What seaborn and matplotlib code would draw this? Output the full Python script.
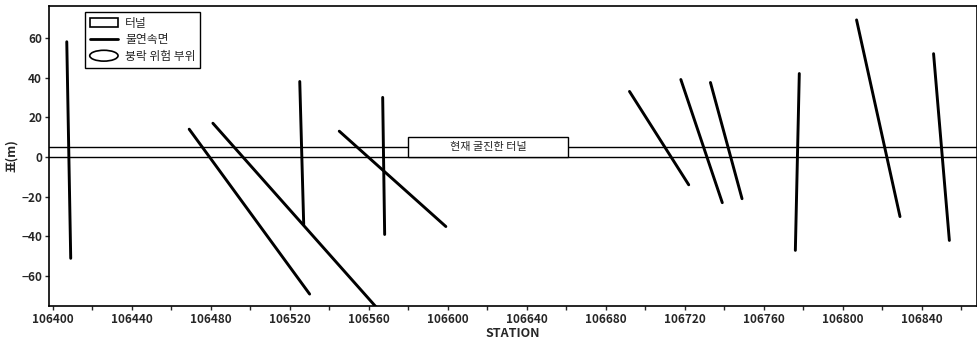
import matplotlib
matplotlib.use("Agg")
import matplotlib.pyplot as plt
import seaborn as sns
import pandas as pd
from matplotlib.patches import Rectangle, Ellipse, Patch
from matplotlib.lines import Line2D
from matplotlib.legend_handler import HandlerPatch

# discontinuity segments: start/end station and elevation
seg_x0 = [106407, 106469, 106481, 106525, 106567, 106545, 106692, 106718, 106733, 106778, 106807, 106846]
seg_y0 = [58, 14, 17, 38, 30, 13, 33, 39, 37.5, 42, 69, 52]
seg_x1 = [106409, 106530, 106565, 106527, 106568, 106599, 106722, 106739, 106749, 106776, 106829, 106854]
seg_y1 = [-51, -69, -77, -34, -39, -35, -14, -23, -21, -47, -30, -42]

tunnel_bottom = 0
tunnel_top = 5
label_x0, label_x1 = 106580, 106661
label_y1 = 10
label_text = "현재 굴진한 터널"

x_ticks = [106400, 106440, 106480, 106520, 106560, 106600, 106640, 106680, 106720, 106760, 106800, 106840]
y_ticks = [-60, -40, -20, 0, 20, 40, 60]
legend_labels = ["터널", "불연속면", "붕락 위험 부위"]

sns.set_theme(style="ticks")
plt.rcParams['font.family'] = ['Noto Sans CJK KR', 'DejaVu Sans']

rows = []
for i, (a, b, c, d) in enumerate(zip(seg_x0, seg_y0, seg_x1, seg_y1)):
    rows.append({"seg": i, "x": a, "y": b})
    rows.append({"seg": i, "x": c, "y": d})
df = pd.DataFrame(rows)

fig = plt.figure(figsize=(9.78, 3.45), dpi=100)
ax = fig.add_axes([49/978, 1-306/345, 928/978, 300/345])

xlim = (106398, 106868)
ylim = (-75, 76)

ax.axhline(tunnel_bottom, color="black", lw=1.0, zorder=2)
ax.axhline(tunnel_top, color="black", lw=1.0, zorder=2)

sns.lineplot(data=df, x="x", y="y", units="seg", estimator=None, sort=False,
             color="black", lw=2.1, ax=ax, zorder=3, legend=False)

ax.add_patch(Rectangle((label_x0, tunnel_bottom), label_x1-label_x0, label_y1-tunnel_bottom,
                       facecolor="white", edgecolor="black", lw=1.0, zorder=4))
ax.text((label_x0+label_x1)/2, (tunnel_bottom+label_y1)/2, label_text,
        ha="center", va="center", fontsize=8, fontweight="medium", zorder=5)

ax.set_xlim(*xlim)
ax.set_ylim(*ylim)
ax.set_xticks(x_ticks)
ax.set_xticks([t+20 for t in x_ticks], minor=True)
ax.set_yticks(y_ticks)
ax.tick_params(axis="both", which="major", direction="out", length=3, width=1, labelsize=8.5, pad=2)
ax.tick_params(axis="x", which="minor", direction="out", length=3, width=1)
for lab in ax.get_xticklabels() + ax.get_yticklabels():
    lab.set_fontweight("bold")
for s in ax.spines.values():
    s.set_linewidth(1.2)
    s.set_color("black")

ax.set_xlabel("STATION", fontsize=9, fontweight="bold", labelpad=1)
ax.set_ylabel("표(m)", fontsize=9, fontweight="bold", labelpad=2)

class HandlerEllipse(HandlerPatch):
    def create_artists(self, legend, orig_handle, xdescent, ydescent, width, height, fontsize, trans):
        e = Ellipse((width/2 - xdescent, height/2 - ydescent), width, height*1.2,
                    facecolor="white", edgecolor="black", lw=1.2)
        e.set_transform(trans)
        return [e]

h_rect = Patch(facecolor="white", edgecolor="black", lw=1.2)
h_line = Line2D([0], [0], color="black", lw=2)
h_ell = Ellipse((0, 0), 1, 1)
leg = ax.legend([h_rect, h_line, h_ell], legend_labels,
                handler_map={Ellipse: HandlerEllipse()},
                loc="upper left", bbox_to_anchor=(36/928, 1-6/300), fontsize=8.5,
                frameon=True, fancybox=False, edgecolor="black", framealpha=1,
                handlelength=2.4, handleheight=0.8, labelspacing=0.3,
                borderpad=0.4, handletextpad=0.6, borderaxespad=0)
leg.get_frame().set_linewidth(1.0)

fig.savefig("out.png", dpi=100)
